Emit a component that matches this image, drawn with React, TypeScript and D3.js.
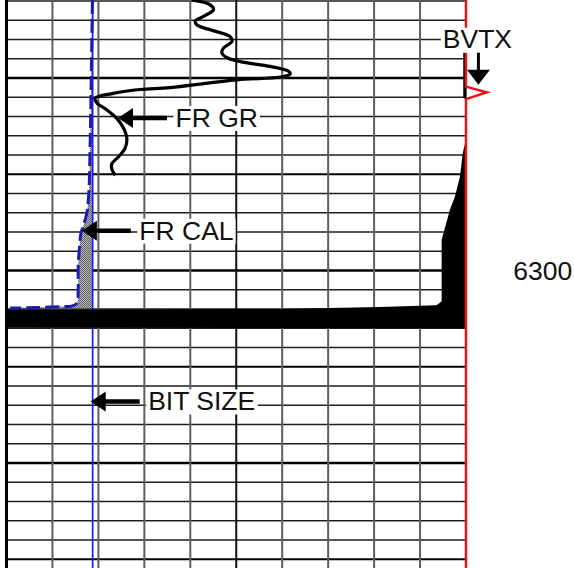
import React from "react";
import * as d3 from "d3";

const width = 574;
const height = 568;

// depth window shown (ft), grid every 2 ft
const depthTop = 6271.9;
const depthBottom = 6330.9;
const gridStepFt = 2;
const depthLabels = [6300];
const trackDivisions = 10;

const bitSizeIn = 7.875;

// FR GR (API), scale 0-150
const grDepth = [6271.9, 6272.4, 6272.9, 6273.6, 6274.1, 6274.5, 6275.0, 6275.7, 6276.2, 6276.9, 6277.4, 6277.9, 6278.3, 6278.8, 6279.3, 6279.6, 6279.9, 6280.2, 6281.0, 6281.2, 6281.6, 6282.1, 6282.6, 6283.3, 6284.2, 6285.2, 6286.3, 6287.3, 6288.2, 6288.9, 6289.5, 6290.1];
const grApi = [60.5, 66.5, 67.6, 64.3, 61.6, 62.2, 66.5, 73.0, 73.6, 70.8, 70.3, 72.0, 76.3, 86.1, 92.1, 92.6, 89.4, 75.2, 53.4, 43.6, 34.9, 28.9, 29.5, 32.7, 36.0, 38.2, 39.3, 38.7, 36.5, 34.4, 34.4, 35.5];

// FR CAL (in), scale 6-16
const calDepth = [6271.9, 6278.1, 6284.4, 6289.2, 6291.1, 6292.7, 6294.0, 6295.4, 6296.1, 6297.5, 6299.6, 6302.0, 6303.4, 6303.7, 6303.75, 6303.85, 6303.9];
const calIn = [7.87, 7.85, 7.83, 7.81, 7.8, 7.78, 7.75, 7.67, 7.62, 7.59, 7.56, 7.56, 7.53, 7.42, 7.17, 6.62, 6.08];

// shaded curve, % of track from left, filled to the right edge
const fillDepth = [6277.4, 6282.0, 6282.3, 6286.4, 6287.8, 6290.2, 6292.3, 6293.7, 6296.8, 6303.2, 6303.6, 6303.8, 6304.0, 6304.05, 6305.95, 6306.0];
const fillPct = [99.4, 99.4, 100, 100, 99.3, 98.7, 97.6, 96.5, 94.7, 94.7, 93.6, 81.3, 59.5, 0, 0, 100];

// BVTX (v/v), wraps at the right edge of the track
const bvtxDepth = [6271.9, 6280.9, 6281.5, 6282.2, 6330.9];
const bvtxVal = [0, 0, 0.0135, 0, 0];

const font = "26.5px 'Liberation Sans', Arial, sans-serif";

let ctx: CanvasRenderingContext2D | null = null;
function textWidth(t: string) {
  if (!ctx) ctx = document.createElement("canvas").getContext("2d");
  if (!ctx) return t.length * 16;
  ctx.font = font;
  return ctx.measureText(t).width;
}

function LeftArrowNote({ tipX, y, text }: { tipX: number; y: number; text: string }) {
  const tx = tipX + 57.5;
  const w = textWidth(text);
  return (
    <g>
      <line x1={tipX + 14} x2={tipX + 49} y1={y} y2={y} stroke="#000" strokeWidth={4.5} />
      <polygon points={`${tipX},${y} ${tipX + 15},${y - 10} ${tipX + 15},${y + 10}`} fill="#000" />
      <rect x={tx - 2} y={y - 12} width={w + 4} height={25} fill="#fff" />
      <text x={tx} y={y + 9} fill="#111" style={{ font }}>{text}</text>
    </g>
  );
}

export default function App() {
  const left = 6.5;
  const right = 466;

  const y = d3.scaleLinear().domain([depthTop, depthBottom]).range([0, height]);
  const xTrack = d3.scaleLinear().domain([0, trackDivisions]).range([left, right]);
  const xGr = d3.scaleLinear().domain([0, 150]).range([left, right]);
  const xCal = d3.scaleLinear().domain([6, 16]).range([left, right]);
  const xFill = d3.scaleLinear().domain([0, 100]).range([left, right]);
  const xBvtx = d3.scaleLinear().domain([0, 0.3]).range([right, right + (right - left)]);

  const depthLines = d3.range(Math.ceil(depthTop / gridStepFt) * gridStepFt, depthBottom, gridStepFt);

  const grLine = d3
    .line<number>()
    .x((_, i) => xGr(grApi[i]))
    .y((d) => y(d))
    .curve(d3.curveCatmullRom.alpha(0.5));

  const calLine = d3
    .line<number>()
    .x((_, i) => xCal(calIn[i]))
    .y((d) => y(d))
    .curve(d3.curveCatmullRom.alpha(0.5));

  const calShade = d3
    .area<number>()
    .x0((_, i) => xCal(Math.min(calIn[i], bitSizeIn)))
    .x1(xCal(bitSizeIn))
    .y((d) => y(d))
    .curve(d3.curveCatmullRom.alpha(0.5));

  const blackFill = d3
    .area<number>()
    .x0((_, i) => xFill(fillPct[i]))
    .x1(right)
    .y((d) => y(d));

  const bvtxLine = d3
    .line<number>()
    .x((_, i) => xBvtx(bvtxVal[i]))
    .y((d) => y(d));

  const grNoteY = y(6284.15);
  const calNoteY = y(6295.86);
  const bitNoteY = y(6313.6);
  const bvtxX = xBvtx(0.0081);
  const bvtxTip = y(6280.7);
  const bvtxW = textWidth("BVTX");

  return (
    <svg width={width} height={height} style={{ position: "absolute", left: 0, top: 0, background: "#fff" }}>
      <defs>
        <clipPath id="track">
          <rect x={left} y={0} width={right - left} height={height} />
        </clipPath>
        <pattern id="dots" width={2} height={2} patternUnits="userSpaceOnUse">
          <rect width={2} height={2} fill="#b8b8b8" />
          <rect width={1} height={1} fill="#5a5a5a" />
          <rect x={1} y={1} width={1} height={1} fill="#6a6a6a" />
        </pattern>
      </defs>

      {/* depth grid */}
      {depthLines.map((d) => {
        const major = d % 20 === 0;
        const mid = d % 10 === 0;
        return (
          <line
            key={d}
            x1={left}
            x2={right}
            y1={y(d)}
            y2={y(d)}
            stroke={major || mid ? "#000" : "#1e1e1e"}
            strokeWidth={major ? 2.6 : mid ? 2 : 1.5}
          />
        );
      })}
      {d3.range(1, trackDivisions + 1).map((i) => (
        <line
          key={i}
          x1={xTrack(i)}
          x2={xTrack(i)}
          y1={0}
          y2={height}
          stroke={i === 5 ? "#111" : "#5e5e5e"}
          strokeWidth={2}
        />
      ))}
      <line x1={left} x2={left} y1={0} y2={height} stroke="#000" strokeWidth={3} />

      <g clipPath="url(#track)">
        <path d={calShade(calDepth) ?? ""} fill="url(#dots)" />
        <line x1={xCal(bitSizeIn)} x2={xCal(bitSizeIn)} y1={0} y2={height} stroke="#1a1aff" strokeWidth={1.7} />
        <path d={calLine(calDepth) ?? ""} fill="none" stroke="#1c1cb4" strokeWidth={3} strokeDasharray="14,5" />
        <path d={blackFill(fillDepth) ?? ""} fill="#000" />
        <path d={grLine(grDepth) ?? ""} fill="none" stroke="#000" strokeWidth={3.2} strokeLinejoin="round" />
      </g>

      <path d={bvtxLine(bvtxDepth) ?? ""} fill="none" stroke="#ee1111" strokeWidth={2.5} />

      <LeftArrowNote tipX={xGr(36.4)} y={grNoteY} text="FR GR" />
      <LeftArrowNote tipX={xCal(7.64)} y={calNoteY} text="FR CAL" />
      <LeftArrowNote tipX={xCal(bitSizeIn) - 2} y={bitNoteY} text="BIT SIZE" />

      <rect x={bvtxX - bvtxW / 2 - 3} y={bvtxTip - 57} width={bvtxW + 6} height={25} fill="#fff" />
      <text x={bvtxX - 1} y={bvtxTip - 36.5} textAnchor="middle" fill="#111" style={{ font }}>BVTX</text>
      <line x1={bvtxX} x2={bvtxX} y1={bvtxTip - 32} y2={bvtxTip - 13} stroke="#000" strokeWidth={3} />
      <polygon points={`${bvtxX},${bvtxTip} ${bvtxX - 11.5},${bvtxTip - 15} ${bvtxX + 11.5},${bvtxTip - 15}`} fill="#000" />

      {depthLabels.map((d) => (
        <text key={d} x={513.3} y={y(d) + 9} fill="#111" style={{ font }}>{d}</text>
      ))}
    </svg>
  );
}
